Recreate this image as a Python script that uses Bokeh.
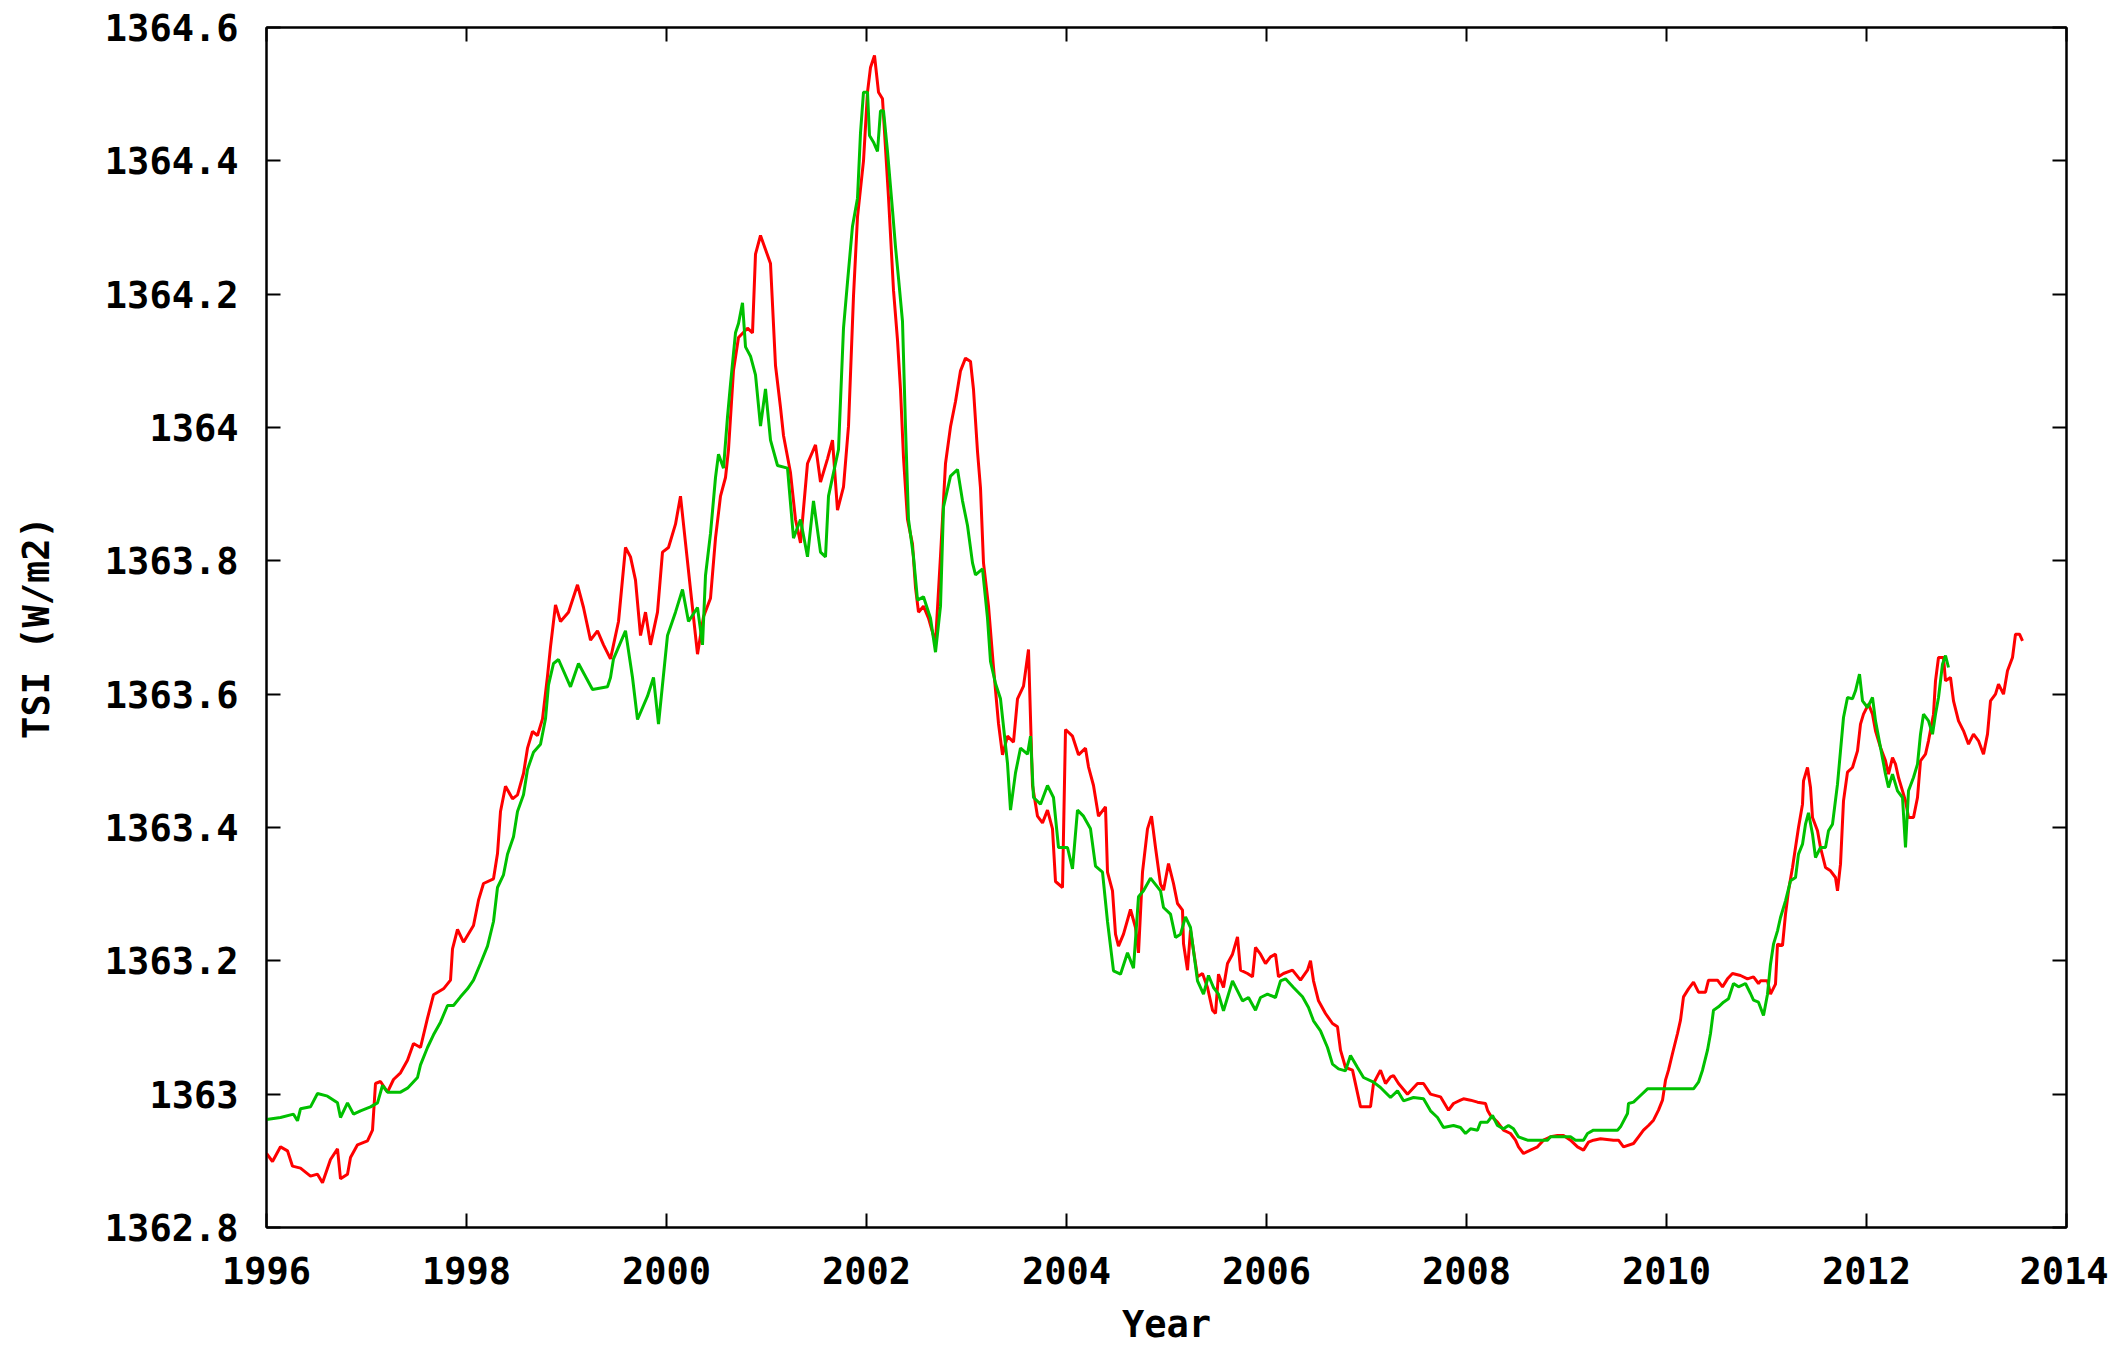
from bokeh.plotting import figure
from bokeh.models import FixedTicker, LinearAxis, Range1d, CustomJSTickFormatter
from bokeh.embed import file_html
from bokeh.resources import INLINE

# ---------------- data ----------------
red_year = [
    1996.00, 1996.06, 1996.14, 1996.21, 1996.26, 1996.34, 1996.44, 1996.51, 1996.56, 1996.64,
    1996.71, 1996.74, 1996.81, 1996.84, 1996.91, 1997.01, 1997.06, 1997.09, 1997.14, 1997.21,
    1997.27, 1997.34, 1997.41, 1997.47, 1997.54, 1997.61, 1997.67, 1997.77, 1997.84, 1997.86,
    1997.91, 1997.97, 1998.07, 1998.12, 1998.17, 1998.27, 1998.31, 1998.34, 1998.39, 1998.46,
    1998.51, 1998.57, 1998.61, 1998.66, 1998.71, 1998.76, 1998.81, 1998.84, 1998.89, 1998.94,
    1999.02, 1999.11, 1999.17, 1999.24, 1999.31, 1999.37, 1999.44, 1999.52, 1999.59, 1999.64,
    1999.69, 1999.74, 1999.79, 1999.84, 1999.91, 1999.96, 2000.02, 2000.09, 2000.14, 2000.19,
    2000.24, 2000.31, 2000.37, 2000.44, 2000.49, 2000.54, 2000.59, 2000.62, 2000.67, 2000.72,
    2000.81, 2000.86, 2000.89, 2000.94, 2000.99, 2001.04, 2001.09, 2001.14, 2001.17, 2001.24,
    2001.29, 2001.34, 2001.41, 2001.49, 2001.54, 2001.61, 2001.66, 2001.71, 2001.77, 2001.82,
    2001.87, 2001.91, 2001.97, 2002.01, 2002.04, 2002.08, 2002.12, 2002.16, 2002.19, 2002.22,
    2002.27, 2002.31, 2002.34, 2002.37, 2002.41, 2002.46, 2002.49, 2002.52, 2002.57, 2002.62,
    2002.69, 2002.74, 2002.79, 2002.84, 2002.89, 2002.94, 2002.99, 2003.04, 2003.07, 2003.11,
    2003.14, 2003.17, 2003.22, 2003.27, 2003.32, 2003.36, 2003.41, 2003.47, 2003.51, 2003.57,
    2003.62, 2003.66, 2003.71, 2003.76, 2003.81, 2003.86, 2003.89, 2003.96, 2003.99, 2004.06,
    2004.12, 2004.19, 2004.22, 2004.27, 2004.32, 2004.39, 2004.41, 2004.46, 2004.49, 2004.52,
    2004.57, 2004.64, 2004.69, 2004.72, 2004.76, 2004.81, 2004.85, 2004.89, 2004.94, 2004.97,
    2005.02, 2005.07, 2005.11, 2005.16, 2005.17, 2005.21, 2005.24, 2005.27, 2005.31, 2005.36,
    2005.41, 2005.46, 2005.49, 2005.52, 2005.57, 2005.61, 2005.66, 2005.71, 2005.74, 2005.81,
    2005.86, 2005.89, 2005.94, 2005.99, 2006.04, 2006.09, 2006.12, 2006.17, 2006.26, 2006.34,
    2006.41, 2006.44, 2006.47, 2006.52, 2006.59, 2006.66, 2006.71, 2006.74, 2006.79, 2006.86,
    2006.94, 2007.04, 2007.07, 2007.14, 2007.19, 2007.24, 2007.27, 2007.32, 2007.41, 2007.51,
    2007.57, 2007.64, 2007.74, 2007.82, 2007.87, 2007.94, 2007.97, 2008.04, 2008.11, 2008.19,
    2008.21, 2008.24, 2008.31, 2008.37, 2008.44, 2008.49, 2008.52, 2008.57, 2008.64, 2008.71,
    2008.77, 2008.84, 2008.91, 2008.97, 2009.04, 2009.11, 2009.17, 2009.22, 2009.27, 2009.34,
    2009.47, 2009.52, 2009.57, 2009.67, 2009.72, 2009.77, 2009.82, 2009.87, 2009.92, 2009.96,
    2009.99, 2010.02, 2010.06, 2010.11, 2010.14, 2010.17, 2010.22, 2010.27, 2010.32, 2010.39,
    2010.42, 2010.51, 2010.56, 2010.61, 2010.66, 2010.74, 2010.81, 2010.87, 2010.92, 2010.94,
    2011.01, 2011.04, 2011.09, 2011.11, 2011.16, 2011.19, 2011.22, 2011.26, 2011.29, 2011.32,
    2011.36, 2011.37, 2011.41, 2011.44, 2011.46, 2011.51, 2011.54, 2011.59, 2011.64, 2011.69,
    2011.71, 2011.74, 2011.77, 2011.81, 2011.86, 2011.91, 2011.94, 2011.97, 2012.02, 2012.06,
    2012.09, 2012.14, 2012.19, 2012.22, 2012.26, 2012.29, 2012.32, 2012.36, 2012.39, 2012.42,
    2012.47, 2012.51, 2012.54, 2012.59, 2012.62, 2012.67, 2012.69, 2012.72, 2012.77, 2012.79,
    2012.84, 2012.87, 2012.92, 2012.97, 2013.02, 2013.07, 2013.12, 2013.17, 2013.21, 2013.24,
    2013.29, 2013.32, 2013.37, 2013.41, 2013.46, 2013.49, 2013.53, 2013.56,
]
red_tsi = [
    1362.911, 1362.899, 1362.921, 1362.915, 1362.892, 1362.889, 1362.877, 1362.880, 1362.867, 1362.902,
    1362.918, 1362.873, 1362.880, 1362.905, 1362.924, 1362.930, 1362.946, 1363.016, 1363.019, 1363.003,
    1363.022, 1363.032, 1363.051, 1363.076, 1363.070, 1363.114, 1363.149, 1363.158, 1363.171, 1363.218,
    1363.247, 1363.228, 1363.253, 1363.291, 1363.316, 1363.323, 1363.361, 1363.424, 1363.462, 1363.443,
    1363.449, 1363.481, 1363.519, 1363.544, 1363.538, 1363.563, 1363.627, 1363.671, 1363.734, 1363.709,
    1363.723, 1363.764, 1363.730, 1363.681, 1363.695, 1363.674, 1363.653, 1363.709, 1363.820, 1363.806,
    1363.771, 1363.688, 1363.723, 1363.674, 1363.723, 1363.813, 1363.820, 1363.855, 1363.897, 1363.827,
    1363.757, 1363.660, 1363.716, 1363.744, 1363.834, 1363.897, 1363.925, 1363.967, 1364.086, 1364.135,
    1364.149, 1364.142, 1364.260, 1364.288, 1364.267, 1364.246, 1364.093, 1364.030, 1363.988, 1363.932,
    1363.862, 1363.827, 1363.946, 1363.974, 1363.918, 1363.953, 1363.981, 1363.876, 1363.911, 1364.002,
    1364.197, 1364.316, 1364.400, 1364.503, 1364.540, 1364.558, 1364.503, 1364.493, 1364.419, 1364.345,
    1364.206, 1364.131, 1364.057, 1363.955, 1363.862, 1363.825, 1363.760, 1363.723, 1363.732, 1363.714,
    1363.677, 1363.807, 1363.946, 1364.001, 1364.039, 1364.085, 1364.104, 1364.099, 1364.057, 1363.964,
    1363.909, 1363.797, 1363.732, 1363.640, 1363.556, 1363.509, 1363.537, 1363.528, 1363.593, 1363.612,
    1363.667, 1363.463, 1363.417, 1363.407, 1363.426, 1363.398, 1363.319, 1363.310, 1363.547, 1363.537,
    1363.509, 1363.519, 1363.491, 1363.463, 1363.417, 1363.431, 1363.333, 1363.305, 1363.240, 1363.222,
    1363.240, 1363.277, 1363.250, 1363.212, 1363.333, 1363.398, 1363.417, 1363.370, 1363.315, 1363.306,
    1363.346, 1363.316, 1363.286, 1363.276, 1363.226, 1363.186, 1363.246, 1363.216, 1363.176, 1363.181,
    1363.160, 1363.126, 1363.121, 1363.180, 1363.160, 1363.196, 1363.210, 1363.236, 1363.186, 1363.181,
    1363.176, 1363.220, 1363.210, 1363.196, 1363.206, 1363.210, 1363.176, 1363.181, 1363.186, 1363.171,
    1363.186, 1363.200, 1363.170, 1363.140, 1363.121, 1363.106, 1363.101, 1363.066, 1363.040, 1363.036,
    1362.981, 1362.981, 1363.016, 1363.036, 1363.016, 1363.026, 1363.028, 1363.016, 1363.000, 1363.016,
    1363.016, 1363.000, 1362.996, 1362.976, 1362.986, 1362.991, 1362.993, 1362.991, 1362.988, 1362.986,
    1362.976, 1362.968, 1362.958, 1362.946, 1362.941, 1362.931, 1362.921, 1362.911, 1362.916, 1362.921,
    1362.931, 1362.936, 1362.938, 1362.938, 1362.931, 1362.921, 1362.916, 1362.928, 1362.931, 1362.933,
    1362.931, 1362.931, 1362.921, 1362.926, 1362.936, 1362.946, 1362.953, 1362.961, 1362.976, 1362.991,
    1363.021, 1363.036, 1363.061, 1363.091, 1363.111, 1363.146, 1363.158, 1363.168, 1363.153, 1363.153,
    1363.171, 1363.171, 1363.161, 1363.173, 1363.181, 1363.178, 1363.173, 1363.176, 1363.166, 1363.170,
    1363.170, 1363.150, 1363.165, 1363.225, 1363.223, 1363.270, 1363.305, 1363.340, 1363.370, 1363.400,
    1363.435, 1363.470, 1363.490, 1363.460, 1363.415, 1363.395, 1363.370, 1363.340, 1363.335, 1363.325,
    1363.305, 1363.345, 1363.440, 1363.483, 1363.490, 1363.515, 1363.555, 1363.570, 1363.585, 1363.570,
    1363.545, 1363.520, 1363.500, 1363.480, 1363.505, 1363.495, 1363.475, 1363.455, 1363.440, 1363.415,
    1363.415, 1363.445, 1363.500, 1363.510, 1363.530, 1363.570, 1363.620, 1363.655, 1363.655, 1363.620,
    1363.625, 1363.590, 1363.560, 1363.545, 1363.525, 1363.540, 1363.530, 1363.510, 1363.540, 1363.590,
    1363.600, 1363.615, 1363.600, 1363.635, 1363.655, 1363.690, 1363.690, 1363.680,
]

green_year = [
    1996.00, 1996.14, 1996.27, 1996.31, 1996.34, 1996.44, 1996.51, 1996.61, 1996.71, 1996.74,
    1996.81, 1996.87, 1996.94, 1997.04, 1997.11, 1997.16, 1997.21, 1997.34, 1997.41, 1997.51,
    1997.54, 1997.61, 1997.67, 1997.74, 1997.81, 1997.87, 1997.94, 1998.01, 1998.07, 1998.14,
    1998.21, 1998.27, 1998.31, 1998.37, 1998.41, 1998.47, 1998.51, 1998.57, 1998.61, 1998.67,
    1998.74, 1998.79, 1998.82, 1998.87, 1998.92, 1999.04, 1999.12, 1999.26, 1999.41, 1999.44,
    1999.47, 1999.59, 1999.66, 1999.71, 1999.81, 1999.87, 1999.92, 2000.01, 2000.09, 2000.16,
    2000.22, 2000.31, 2000.36, 2000.39, 2000.44, 2000.49, 2000.52, 2000.57, 2000.61, 2000.64,
    2000.69, 2000.72, 2000.76, 2000.79, 2000.84, 2000.89, 2000.94, 2000.99, 2001.04, 2001.11,
    2001.21, 2001.27, 2001.34, 2001.41, 2001.47, 2001.54, 2001.59, 2001.62, 2001.67, 2001.72,
    2001.77, 2001.81, 2001.86, 2001.91, 2001.94, 2001.97, 2002.01, 2002.03, 2002.07, 2002.11,
    2002.14, 2002.17, 2002.21, 2002.26, 2002.29, 2002.32, 2002.36, 2002.39, 2002.42, 2002.47,
    2002.51, 2002.57, 2002.64, 2002.69, 2002.74, 2002.77, 2002.84, 2002.91, 2002.96, 2003.01,
    2003.06, 2003.09, 2003.16, 2003.21, 2003.24, 2003.29, 2003.34, 2003.41, 2003.44, 2003.49,
    2003.54, 2003.61, 2003.64, 2003.67, 2003.74, 2003.81, 2003.87, 2003.92, 2004.01, 2004.06,
    2004.11, 2004.17, 2004.24, 2004.29, 2004.36, 2004.41, 2004.47, 2004.54, 2004.61, 2004.67,
    2004.72, 2004.77, 2004.84, 2004.94, 2004.97, 2005.04, 2005.09, 2005.14, 2005.19, 2005.24,
    2005.27, 2005.31, 2005.37, 2005.42, 2005.47, 2005.52, 2005.57, 2005.61, 2005.66, 2005.71,
    2005.76, 2005.82, 2005.89, 2005.94, 2006.01, 2006.09, 2006.14, 2006.19, 2006.27, 2006.36,
    2006.42, 2006.47, 2006.54, 2006.61, 2006.66, 2006.72, 2006.79, 2006.84, 2006.91, 2006.97,
    2007.07, 2007.14, 2007.24, 2007.31, 2007.37, 2007.47, 2007.57, 2007.64, 2007.71, 2007.77,
    2007.87, 2007.94, 2007.99, 2008.04, 2008.11, 2008.14, 2008.21, 2008.26, 2008.31, 2008.37,
    2008.42, 2008.47, 2008.52, 2008.61, 2008.81, 2008.84, 2009.04, 2009.09, 2009.17, 2009.21,
    2009.27, 2009.51, 2009.54, 2009.61, 2009.62, 2009.67, 2009.74, 2009.81, 2010.27, 2010.32,
    2010.36, 2010.41, 2010.44, 2010.47, 2010.52, 2010.57, 2010.62, 2010.67, 2010.72, 2010.79,
    2010.84, 2010.87, 2010.92, 2010.97, 2011.01, 2011.04, 2011.07, 2011.11, 2011.14, 2011.19,
    2011.24, 2011.29, 2011.32, 2011.36, 2011.39, 2011.42, 2011.46, 2011.49, 2011.54, 2011.59,
    2011.62, 2011.66, 2011.71, 2011.74, 2011.77, 2011.81, 2011.86, 2011.89, 2011.93, 2011.96,
    2012.01, 2012.06, 2012.09, 2012.14, 2012.19, 2012.22, 2012.26, 2012.31, 2012.36, 2012.39,
    2012.42, 2012.47, 2012.51, 2012.54, 2012.57, 2012.62, 2012.66, 2012.69, 2012.72, 2012.76,
    2012.79, 2012.82,
]
green_tsi = [
    1362.962, 1362.965, 1362.970, 1362.960, 1362.978, 1362.981, 1363.001, 1362.997, 1362.987, 1362.965,
    1362.987, 1362.970, 1362.975, 1362.981, 1362.987, 1363.013, 1363.003, 1363.003, 1363.009, 1363.025,
    1363.044, 1363.070, 1363.089, 1363.108, 1363.133, 1363.133, 1363.146, 1363.158, 1363.171, 1363.196,
    1363.222, 1363.259, 1363.310, 1363.329, 1363.360, 1363.386, 1363.424, 1363.449, 1363.487, 1363.513,
    1363.525, 1363.563, 1363.614, 1363.646, 1363.652, 1363.611, 1363.646, 1363.607, 1363.611, 1363.625,
    1363.653, 1363.695, 1363.625, 1363.562, 1363.597, 1363.625, 1363.555, 1363.688, 1363.723, 1363.757,
    1363.709, 1363.730, 1363.674, 1363.778, 1363.841, 1363.925, 1363.960, 1363.939, 1364.016, 1364.065,
    1364.142, 1364.156, 1364.187, 1364.121, 1364.107, 1364.079, 1364.002, 1364.058, 1363.981, 1363.943,
    1363.939, 1363.834, 1363.862, 1363.806, 1363.890, 1363.813, 1363.806, 1363.897, 1363.932, 1363.967,
    1364.149, 1364.218, 1364.302, 1364.344, 1364.442, 1364.503, 1364.503, 1364.438, 1364.428, 1364.414,
    1364.475, 1364.475, 1364.414, 1364.326, 1364.271, 1364.224, 1364.159, 1364.001, 1363.862, 1363.806,
    1363.741, 1363.746, 1363.714, 1363.663, 1363.732, 1363.881, 1363.927, 1363.937, 1363.890, 1363.853,
    1363.797, 1363.779, 1363.788, 1363.714, 1363.649, 1363.616, 1363.593, 1363.496, 1363.426, 1363.482,
    1363.519, 1363.510, 1363.537, 1363.445, 1363.435, 1363.463, 1363.445, 1363.370, 1363.370, 1363.338,
    1363.426, 1363.417, 1363.398, 1363.342, 1363.333, 1363.259, 1363.185, 1363.180, 1363.212, 1363.189,
    1363.296, 1363.305, 1363.324, 1363.305, 1363.280, 1363.270, 1363.235, 1363.240, 1363.266, 1363.250,
    1363.215, 1363.170, 1363.150, 1363.178, 1363.160, 1363.150, 1363.125, 1363.145, 1363.170, 1363.155,
    1363.140, 1363.145, 1363.126, 1363.145, 1363.150, 1363.145, 1363.170, 1363.173, 1363.160, 1363.146,
    1363.130, 1363.110, 1363.095, 1363.070, 1363.045, 1363.038, 1363.035, 1363.058, 1363.040, 1363.025,
    1363.018, 1363.010, 1362.995, 1363.005, 1362.990, 1362.995, 1362.993, 1362.975, 1362.965, 1362.950,
    1362.953, 1362.950, 1362.941, 1362.948, 1362.946, 1362.958, 1362.958, 1362.968, 1362.953, 1362.948,
    1362.953, 1362.948, 1362.936, 1362.931, 1362.931, 1362.936, 1362.936, 1362.931, 1362.931, 1362.941,
    1362.946, 1362.946, 1362.951, 1362.971, 1362.986, 1362.988, 1362.998, 1363.008, 1363.008, 1363.018,
    1363.036, 1363.066, 1363.091, 1363.126, 1363.131, 1363.138, 1363.143, 1363.166, 1363.161, 1363.166,
    1363.151, 1363.141, 1363.138, 1363.118, 1363.150, 1363.195, 1363.225, 1363.245, 1363.265, 1363.290,
    1363.320, 1363.325, 1363.360, 1363.375, 1363.405, 1363.422, 1363.390, 1363.355, 1363.370, 1363.370,
    1363.395, 1363.405, 1363.465, 1363.515, 1363.565, 1363.595, 1363.593, 1363.605, 1363.630, 1363.590,
    1363.580, 1363.595, 1363.560, 1363.520, 1363.480, 1363.460, 1363.480, 1363.455, 1363.445, 1363.370,
    1363.455, 1363.475, 1363.495, 1363.540, 1363.570, 1363.560, 1363.540, 1363.570, 1363.595, 1363.645,
    1363.658, 1363.640,
]

x_ticks = [1996, 1998, 2000, 2002, 2004, 2006, 2008, 2010, 2012, 2014]
x_tick_labels = ["1996", "1998", "2000", "2002", "2004", "2006", "2008", "2010", "2012", "2014"]
y_ticks = [1362.8, 1363.0, 1363.2, 1363.4, 1363.6, 1363.8, 1364.0, 1364.2, 1364.4, 1364.6]
y_tick_labels = ["1362.8", "1363", "1363.2", "1363.4", "1363.6", "1363.8", "1364", "1364.2", "1364.4", "1364.6"]

x_title = "Year"
y_title = "TSI (W/m2)"

# ---------------- figure ----------------
FONT = "DejaVu Sans Mono"
FS = "37px"

p = figure(width=2108, height=1353,
           x_range=Range1d(1996, 2014), y_range=Range1d(1362.8, 1364.6),
           output_backend="svg", toolbar_location=None,
           min_border_left=266, min_border_right=42,
           min_border_top=27, min_border_bottom=126,
           background_fill_color="white", border_fill_color="white")

p.xgrid.visible = False
p.ygrid.visible = False
p.outline_line_color = "black"
p.outline_line_width = 2

def style_axis(ax, ticks, labels, title=None):
    ax.ticker = FixedTicker(ticks=ticks)
    ax.major_label_overrides = {t: l for t, l in zip(ticks, labels)}
    ax.major_tick_in = 14
    ax.major_tick_out = 0
    ax.major_tick_line_width = 2
    ax.major_tick_line_color = "black"
    ax.minor_tick_line_color = None
    ax.axis_line_width = 2
    ax.axis_line_color = "black"
    ax.major_label_text_font = FONT
    ax.major_label_text_font_size = FS
    ax.major_label_text_font_style = "bold"
    ax.major_label_text_color = "black"
    if title is not None:
        ax.axis_label = title
        ax.axis_label_text_font = FONT
        ax.axis_label_text_font_size = FS
        ax.axis_label_text_font_style = "bold"
        ax.axis_label_text_color = "black"

style_axis(p.xaxis[0], x_ticks, x_tick_labels, x_title)
p.xaxis[0].major_label_standoff = 29
p.xaxis[0].axis_label_standoff = 16
p.xaxis[0].axis_label_text_baseline = "middle"

style_axis(p.yaxis[0], y_ticks, y_tick_labels, y_title)
p.yaxis[0].major_label_standoff = 28
p.yaxis[0].axis_label_standoff = 44

# mirrored tick marks on top and right (no labels)
blank = CustomJSTickFormatter(code="return ''")
top_axis = LinearAxis(ticker=FixedTicker(ticks=x_ticks), formatter=blank,
                      major_tick_in=14, major_tick_out=0, major_tick_line_width=2,
                      minor_tick_line_color=None, axis_line_width=2,
                      major_label_standoff=0)
p.add_layout(top_axis, "above")
right_axis = LinearAxis(ticker=FixedTicker(ticks=y_ticks), formatter=blank,
                        major_tick_in=14, major_tick_out=0, major_tick_line_width=2,
                        minor_tick_line_color=None, axis_line_width=2,
                        major_label_standoff=0)
p.add_layout(right_axis, "right")

p.line(red_year, red_tsi, line_color="#ff0000", line_width=3)
p.line(green_year, green_tsi, line_color="#00c000", line_width=3)

open("out.html", "w").write(file_html(p, INLINE))
